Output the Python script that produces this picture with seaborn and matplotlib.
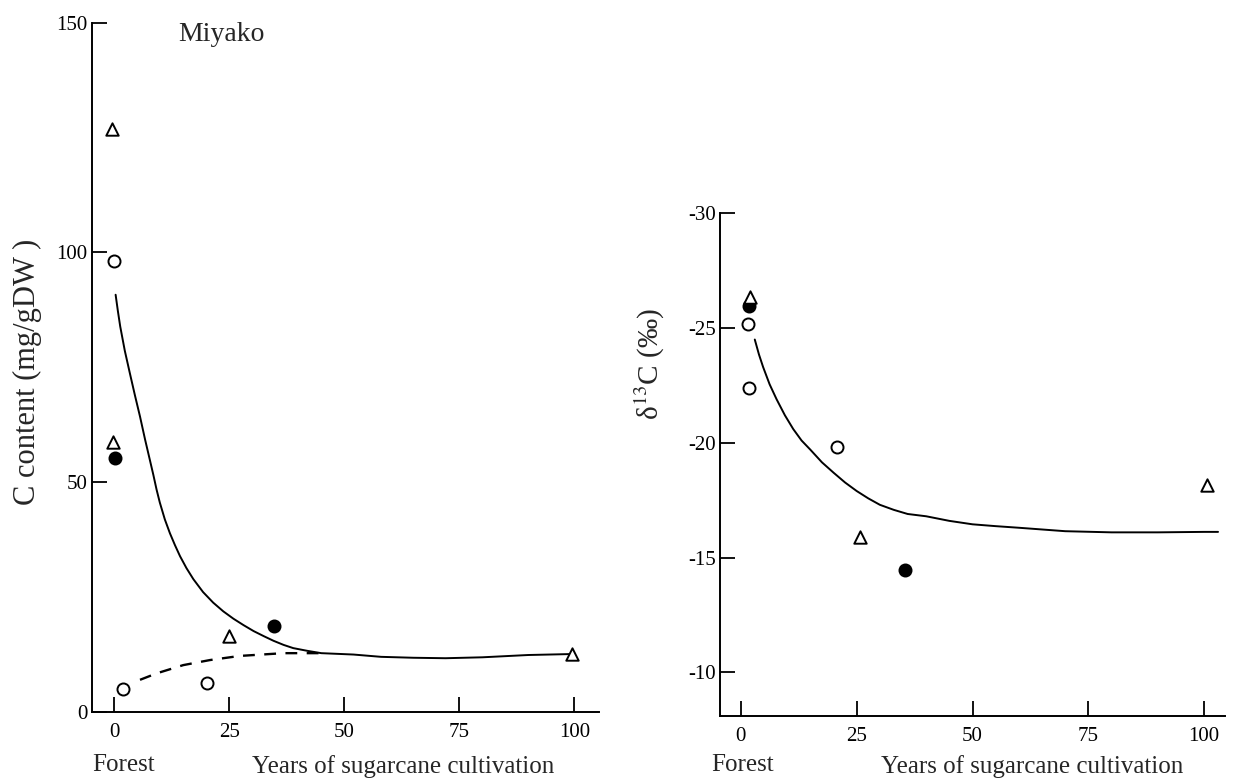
"""
Soil carbon content and d13C after years of sugarcane cultivation (Miyako).
"""

import matplotlib
matplotlib.use("Agg")
import matplotlib.pyplot as plt
import pandas as pd
import seaborn as sns

# left panel: C content (mg/gDW)
c_open_x = [0.0, 2.0, 20.2]
c_open_y = [98.2, 4.9, 6.4]
c_filled_x = [0.2, 34.7]
c_filled_y = [55.2, 18.7]
c_tri_x = [-0.4, -0.2, 25.0, 99.5]
c_tri_y = [126.8, 58.8, 16.6, 12.6]

c_curve_x = [0.3, 0.8, 1.3, 2.3, 3.4, 4.5, 5.6, 6.7, 7.8, 8.5, 9.2, 9.9, 11.0,
             12.1, 13.2, 14.3, 15.7, 17.2, 19.3, 21.5, 23.7, 25.9, 28.1, 30.3,
             32.5, 34.6, 36.8, 38.9, 42.0, 45.0, 52.0, 58.0, 65.0, 72.0, 80.0,
             90.0, 99.0]
c_curve_y = [90.8, 87.2, 83.9, 78.6, 73.7, 68.9, 64.3, 59.3, 54.6, 51.6, 48.4,
             45.6, 41.9, 38.9, 36.3, 33.9, 31.3, 28.9, 26.1, 23.8, 21.9, 20.3,
             18.9, 17.6, 16.5, 15.5, 14.6, 13.9, 13.3, 12.8, 12.5, 12.0, 11.8,
             11.7, 11.9, 12.4, 12.6]

c_dash_x = [5.6, 9.2, 15.0, 20.8, 27.3, 36.8, 45.0]
c_dash_y = [7.0, 8.4, 10.2, 11.3, 12.2, 12.8, 12.8]

# right panel: d13C (permil)
d_open_x = [1.6, 1.8, 20.8]
d_open_y = [-25.17, -22.39, -19.82]
d_filled_x = [1.7, 35.5]
d_filled_y = [-25.96, -14.47]
d_tri_x = [1.9, 25.7, 100.6]
d_tri_y = [-26.36, -15.89, -18.15]

d_curve_x = [3.0, 3.9, 4.8, 6.2, 7.7, 9.5, 11.3, 13.1, 15.0, 17.5, 20.0, 22.5,
             25.0, 27.5, 30.0, 33.0, 36.0, 40.0, 45.0, 50.0, 55.0, 60.0, 70.0,
             80.0, 90.0, 100.0, 103.0]
d_curve_y = [-24.5, -23.85, -23.3, -22.55, -21.9, -21.2, -20.6, -20.1, -19.7,
             -19.15, -18.7, -18.27, -17.9, -17.58, -17.3, -17.08, -16.9, -16.8,
             -16.6, -16.45, -16.37, -16.3, -16.15, -16.1, -16.1, -16.12, -16.12]

years_ticks = [0, 25, 50, 75, 100]
c_ticks = [0, 50, 100, 150]
d_ticks = [-30, -25, -20, -15, -10]

sns.set_style("white")
plt.rcParams["font.family"] = ["Liberation Serif", "DejaVu Serif"]
plt.rcParams["mathtext.fontset"] = "stix"
plt.rcParams["axes.unicode_minus"] = False

fig = plt.figure(figsize=(12.34, 7.83), dpi=100)
ax1 = fig.add_axes([0.0743, 0.0907, 0.4113, 0.8803])
ax2 = fig.add_axes([0.5835, 0.0856, 0.4092, 0.6420])


def draw_points(ax, xs, ys, marker, face, size):
    df = pd.DataFrame({"x": xs, "y": ys})
    sns.scatterplot(data=df, x="x", y="y", ax=ax, marker=marker, s=size,
                    facecolor=face, edgecolor="black", linewidth=1.4, zorder=3)


def style_axes(ax, yticks):
    sns.despine(ax=ax)
    for side in ["left", "bottom"]:
        ax.spines[side].set_linewidth(1.4)
        ax.spines[side].set_color("black")
    ax.set_xticks(years_ticks)
    ax.set_yticks(yticks)
    ax.set_yticklabels([str(t) for t in yticks])
    ax.tick_params(axis="both", which="major", bottom=True, left=True,
                   direction="in", length=11, width=1.3, colors="black",
                   labelsize=15)
    ax.tick_params(axis="x", pad=8)
    ax.tick_params(axis="y", pad=3)
    ax.set_xlabel("")
    ax.set_ylabel("")


# left panel
sns.lineplot(x=c_curve_x, y=c_curve_y, ax=ax1, color="black", linewidth=1.4,
             sort=False)
sns.lineplot(x=c_dash_x, y=c_dash_y, ax=ax1, color="black", linewidth=1.7,
             sort=False, linestyle=(0, (5, 4)))
draw_points(ax1, c_open_x, c_open_y, "o", "white", 75)
draw_points(ax1, c_filled_x, c_filled_y, "o", "black", 75)
draw_points(ax1, c_tri_x, c_tri_y, "^", "white", 80)
ax1.set_xlim(-4.9, 105.4)
ax1.set_ylim(0, 150)
style_axes(ax1, c_ticks)
ax1.text(13.8, 147.5, "Miyako", fontsize=20, ha="left", va="center")

# right panel
sns.lineplot(x=d_curve_x, y=d_curve_y, ax=ax2, color="black", linewidth=1.4,
             sort=False)
draw_points(ax2, d_open_x, d_open_y, "o", "white", 75)
draw_points(ax2, d_filled_x, d_filled_y, "o", "black", 75)
draw_points(ax2, d_tri_x, d_tri_y, "^", "white", 80)
ax2.set_xlim(-4.5, 104.5)
ax2.set_ylim(-8.1, -30)
style_axes(ax2, d_ticks)

# axis titles placed as in the original figure
W, H = 1234, 783
fig.text(27 / W, 1 - 372 / H, "C content (mg/gDW )", rotation=90, fontsize=22,
         ha="center", va="center")
fig.text(650 / W, 1 - 364 / H, "δ$^{13}$C (‰)", rotation=90, fontsize=21,
         ha="center", va="center")
fig.text(124 / W, 1 - 765 / H, "Forest", fontsize=18, ha="center", va="center")
fig.text(403 / W, 1 - 767 / H, "Years of sugarcane cultivation", fontsize=18,
         ha="center", va="center")
fig.text(743 / W, 1 - 765 / H, "Forest", fontsize=18, ha="center", va="center")
fig.text(1032 / W, 1 - 767 / H, "Years of sugarcane cultivation", fontsize=18,
         ha="center", va="center")

fig.savefig("out.png", dpi=100)
plt.close(fig)
